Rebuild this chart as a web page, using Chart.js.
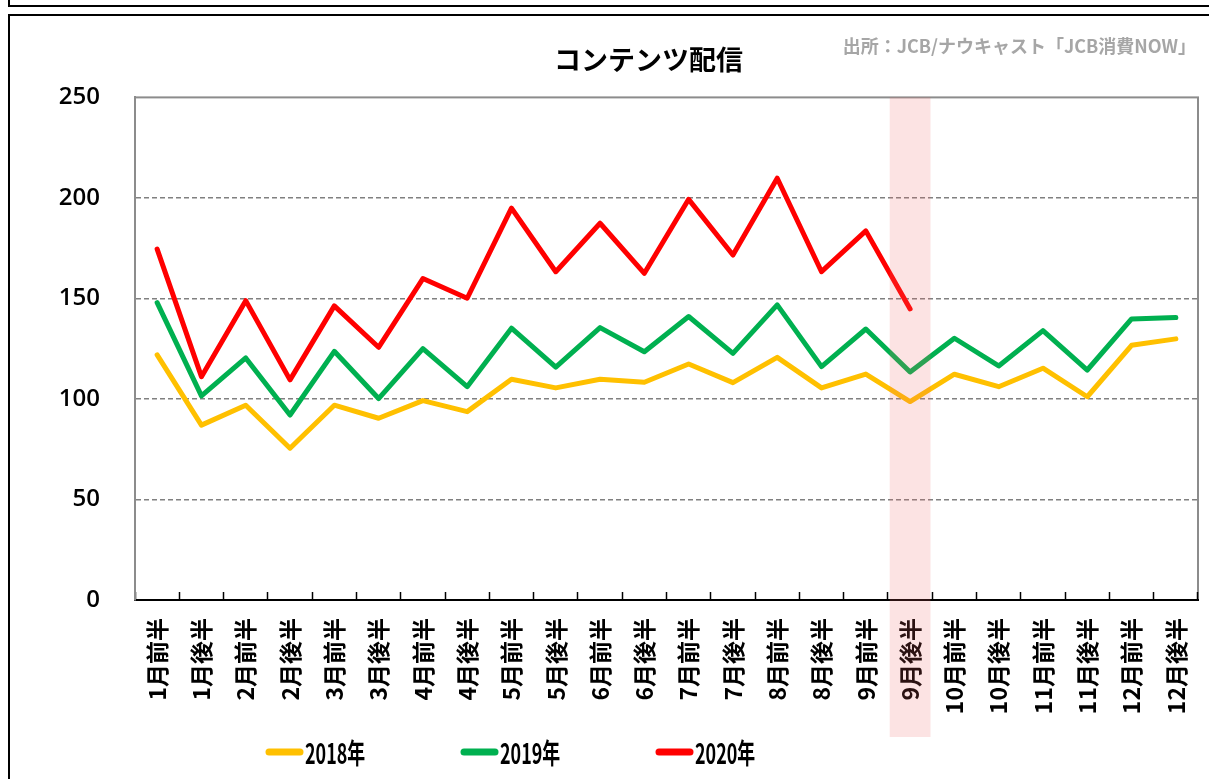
<!DOCTYPE html>
<html>
<head>
<meta charset="utf-8">
<script src="https://cdn.jsdelivr.net/npm/chart.js@4.4.1/dist/chart.umd.min.js"></script>
<style>
  html, body { margin: 0; padding: 0; background: #fff; overflow: hidden; }
  .box { position: absolute; border: 2px solid #000; }
  #topBox { left: 8px; top: -21px; width: 1400px; height: 24px; }
  #mainBox { left: 8px; top: 14px; width: 1400px; height: 900px; }
  #chart { position: absolute; left: 0; top: 0; }
</style>
</head>
<body>
<div class="box" id="topBox"></div>
<div class="box" id="mainBox"></div>
<canvas id="chart" width="1209" height="779"></canvas>
<script>
const categories = [
  "1月前半", "1月後半", "2月前半", "2月後半", "3月前半", "3月後半",
  "4月前半", "4月後半", "5月前半", "5月後半", "6月前半", "6月後半",
  "7月前半", "7月後半", "8月前半", "8月後半", "9月前半", "9月後半",
  "10月前半", "10月後半", "11月前半", "11月後半", "12月前半", "12月後半"
];
const seriesNames = ["2018年", "2019年", "2020年"];
const values2018 = [121.9, 87.0, 96.9, 75.5, 96.9, 90.4, 99.2, 93.7, 109.8, 105.5, 109.8, 108.3,
  117.4, 108.1, 120.7, 105.5, 112.4, 98.7, 112.3, 106.1, 115.3, 101.1, 126.7, 129.9];
const values2019 = [147.9, 101.5, 120.4, 92.0, 123.7, 100.2, 125.0, 106.1, 135.2, 115.8, 135.5, 123.5,
  141.0, 122.7, 146.8, 116.1, 134.8, 113.4, 130.2, 116.4, 134.0, 114.4, 139.8, 140.5];
const values2020 = [174.5, 111.1, 148.9, 109.5, 146.3, 125.7, 159.9, 150.1, 194.9, 163.3, 187.4, 162.5,
  199.3, 171.6, 209.8, 163.3, 183.6, 144.8, null, null, null, null, null, null];
const yTicks = [0, 50, 100, 150, 200, 250];
const highlightIndex = 17; // 9月後半
const chartTitle = "コンテンツ配信";
const sourceText = "出所：JCB/ナウキャスト「JCB消費NOW」";

const colors = ["#FFC000", "#00B050", "#FF0000"];
const jp = "'Noto Sans CJK JP', sans-serif";

// plot area border (top / right in grey)
const frame = {
  id: "frame",
  afterLayout(chart) {
    // title sits a little left of the plot centre
    chart.titleBlock.left -= 18;
    chart.titleBlock.right -= 18;
  },
  beforeDraw(chart) {
    const { ctx, chartArea: a } = chart;
    ctx.save();
    ctx.strokeStyle = "#8c8c8c";
    ctx.lineWidth = 2;
    ctx.strokeRect(a.left, a.top, a.right - a.left, a.bottom - a.top);
    ctx.restore();
  }
};

// pale red column over 9月後半
const band = {
  id: "band",
  afterDatasetsDraw(chart) {
    const { ctx, chartArea: a, scales: { x } } = chart;
    const step = x.width / categories.length;
    const cx = x.getPixelForValue(highlightIndex);
    const w = step * 0.92;
    ctx.save();
    ctx.fillStyle = "rgba(240, 100, 100, 0.18)";
    ctx.fillRect(cx - w / 2, a.top, w, a.bottom - a.top + 137);
    ctx.restore();
  }
};

// source note + legend row
const extras = {
  id: "extras",
  afterDraw(chart) {
    const { ctx, chartArea: a } = chart;
    ctx.save();
    ctx.font = "bold 18px " + jp;
    ctx.fillStyle = "#a6a6a6";
    ctx.textAlign = "right";
    ctx.textBaseline = "middle";
    ctx.fillText(sourceText, a.right - 2, 46);

    const y = 752;
    chart.data.datasets.forEach((ds, i) => {
      const x0 = 266 + i * 195;
      ctx.strokeStyle = ds.borderColor;
      ctx.lineWidth = 7;
      ctx.lineCap = "round";
      ctx.beginPath();
      ctx.moveTo(x0 + 3, y);
      ctx.lineTo(x0 + 34, y);
      ctx.stroke();
      ctx.save();
      ctx.translate(x0 + 39, y + 1);
      ctx.scale(0.64, 1);
      ctx.font = "bold 28px " + jp;
      ctx.fillStyle = "#000";
      ctx.textAlign = "left";
      ctx.fillText(ds.label, 0, 0);
      ctx.restore();
    });
    ctx.restore();
  }
};

const lineSet = (label, data, color) => ({
  label,
  data,
  borderColor: color,
  backgroundColor: color,
  borderWidth: 5,
  pointRadius: 0,
  tension: 0,
  fill: false,
  spanGaps: false,
  borderJoinStyle: "round",
  borderCapStyle: "round"
});

new Chart(document.getElementById("chart").getContext("2d"), {
  type: "line",
  data: {
    labels: categories,
    datasets: [
      lineSet(seriesNames[0], values2018, colors[0]),
      lineSet(seriesNames[1], values2019, colors[1]),
      lineSet(seriesNames[2], values2020, colors[2])
    ]
  },
  plugins: [frame, band, extras],
  options: {
    responsive: false,
    animation: false,
    devicePixelRatio: 1,
    layout: { padding: { left: 0, right: 11, top: 0, bottom: 0 } },
    scales: {
      x: {
        offset: true,
        grid: {
          offset: true,
          drawOnChartArea: false,
          drawTicks: true,
          tickLength: -8,
          tickColor: "#000",
          tickWidth: 1.5
        },
        border: { color: "#000", width: 2 },
        ticks: {
          autoSkip: false,
          maxRotation: 90,
          minRotation: 90,
          padding: 26,
          color: "#000",
          font: { family: jp, size: 23, weight: "bold" }
        },
        afterFit(scale) {
          scale.height = 179;
          scale.paddingLeft = 0;
          scale.paddingRight = 0;
        }
      },
      y: {
        min: 0,
        max: 250,
        afterBuildTicks(scale) { scale.ticks = yTicks.map(v => ({ value: v })); },
        grid: {
          drawTicks: false,
          color: ctx => (ctx.tick && (ctx.tick.value === 0 || ctx.tick.value === 250)) ? "rgba(0,0,0,0)" : "#808080",
          lineWidth: 1.5
        },
        border: { color: "#8c8c8c", width: 2, dash: [5, 3] },
        ticks: {
          padding: 35,
          color: "#000",
          font: { family: "'Open Sans', sans-serif", size: 24, weight: "600" }
        },
        afterFit(scale) { scale.width = 135; }
      }
    },
    plugins: {
      legend: { display: false },
      tooltip: { enabled: false },
      title: {
        display: true,
        text: chartTitle,
        fullSize: false,
        color: "#000",
        font: { family: jp, size: 27, weight: "bold" },
        padding: { top: 44, bottom: 21 }
      }
    }
  }
});
</script>
</body>
</html>
